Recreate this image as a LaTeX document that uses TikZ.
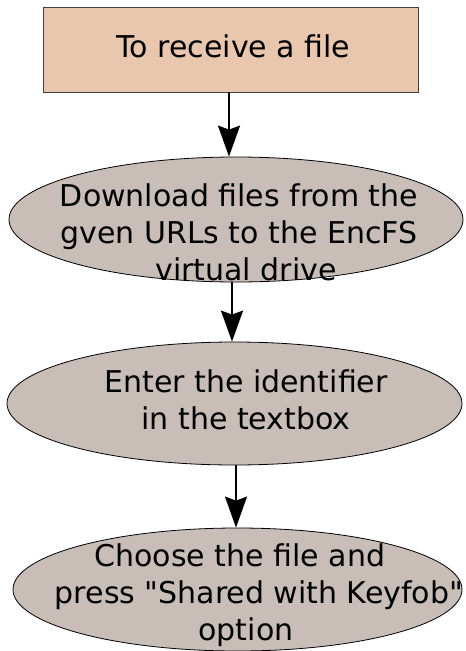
\documentclass[tikz,border=0pt]{standalone}
\usepackage{fontspec}
\setmainfont{DejaVu Sans}[Ligatures=TeXOff]
\usetikzlibrary{shapes.geometric,arrows.meta}

\definecolor{startfill}{HTML}{E9C7AE}
\definecolor{stepfill}{HTML}{C8BDB7}

\tikzset{
  startbox/.style={draw=black!75, line width=0.8pt, fill=startfill, inner sep=0pt,
                   minimum width=375pt, minimum height=85pt},
  stepoval/.style={ellipse, draw=black, line width=0.8pt, fill=stepfill, inner sep=0pt},
  label/.style={font=\fontsize{30}{37}\selectfont, align=center, inner sep=0pt, anchor=base},
  flow/.style={-{Stealth[length=31pt,width=22pt,inset=4pt]}, line width=2pt, black},
}

\begin{document}
\begin{tikzpicture}[x=1pt,y=-1pt]
  \useasboundingbox (0,0) rectangle (466,651);

  % start box
  \node[startbox] (start) at (230.5,49.5) {};
  \node[label] (startt) at (233.5,57) {To receive a file};

  % step 1
  \node[stepoval, minimum width=454pt, minimum height=125pt] (s1) at (236,219.5) {};
  \node[label] (s1t) at (239,280) {Download files from the\\gven URLs to the EncFS\\\hspace*{14pt}virtual drive};

  % step 2
  \node[stepoval, minimum width=455pt, minimum height=123pt] (s2) at (234.5,403.5) {};
  \node[label] (s2t) at (246,429) {Enter the identifier\\in the textbox};

  % step 3
  \node[stepoval, minimum width=449pt, minimum height=123pt] (s3) at (237.5,589.5) {};
  \node[label] (s3t) at (246,640) {Choose the file and\hspace*{12pt}\\\hspace*{26pt}press "Shared with Keyfob"\\option};

  % connectors
  \draw[flow] ([xshift=-1.5pt]start.south) -- ([xshift=-1.5pt]start.south |- s1.north);
  \draw[flow] ([xshift=-4pt]s1.south) -- ([xshift=-4pt]s1.south |- s2.north);
  \draw[flow] ([xshift=1.5pt]s2.south) -- ([xshift=1.5pt]s2.south |- s3.north);
\end{tikzpicture}
\end{document}
